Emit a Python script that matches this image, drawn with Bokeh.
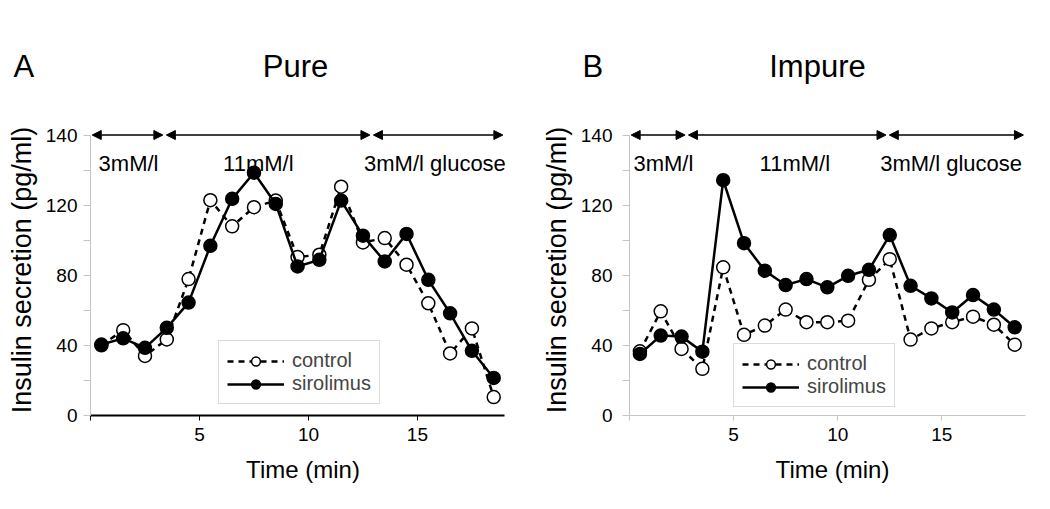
from bokeh.plotting import figure
from bokeh.layouts import row, column
from bokeh.models import (FixedTicker, Range1d, Arrow, NormalHead, Label,
                          Legend, LegendItem)
from bokeh.embed import file_html
from bokeh.resources import INLINE

# ---------------- data ----------------
time_min = [0.5, 1.5, 2.5, 3.5, 4.5, 5.5, 6.5, 7.5, 8.5, 9.5,
            10.5, 11.5, 12.5, 13.5, 14.5, 15.5, 16.5, 17.5, 18.5]

pure_control = [40, 48.7, 34, 43.4, 77.8, 122.8, 107.9, 118.8, 122.6, 90.4,
                91.7, 130.5, 98.7, 101.2, 86, 64, 35.4, 49.7, 10.5]
pure_sirolimus = [40.5, 44, 38.6, 50, 64.4, 96.8, 123.6, 138.5, 120.7, 85,
                  88.8, 122.6, 102.6, 87.9, 103.6, 77.4, 58.3, 36.9, 21.4]

impure_control = [36.6, 59.4, 38, 26.6, 84.5, 46, 51.3, 60.4, 53.2, 53.2,
                  54.1, 77.4, 89.2, 43.3, 49.7, 53.2, 56.4, 51.8, 40.4]
impure_sirolimus = [35.1, 45.6, 45, 36.4, 134.2, 98.3, 82.6, 74.4, 77.8, 73.1,
                    79.7, 83.1, 102.9, 74, 66.8, 58.8, 68.7, 60.4, 50.3]

phase_labels = ["3mM/l", "11mM/l", "3mM/l glucose"]
pure_phase_bounds = [0, 3.4, 12.9, 19]
impure_phase_bounds = [0, 2.75, 12.4, 19]

panel_letters = ["A", "B"]
panel_titles = ["Pure", "Impure"]

y_ticks = [0, 40, 80, 120, 160]
y_minor = [20, 60, 100, 140]
y_tick_labels = {0: "0", 40: "40", 80: "80", 120: "120", 160: "140"}
x_ticks = [0, 5, 10, 15]
x_tick_labels = {0: "", 5: "5", 10: "10", 15: "15"}

FONT = "Liberation Sans"
HEADER_H = 98
PANEL_H = 403


def make_panel(control, sirolimus, bounds, width,
               border_left, border_right, xaxis_color, ylab_standoff,
               text_x, legend_loc):
    p = figure(width=width, height=PANEL_H, output_backend="svg",
               toolbar_location=None, x_range=Range1d(0, 19.5),
               y_range=Range1d(0, 166),
               min_border_left=border_left, min_border_right=border_right,
               min_border_top=26, min_border_bottom=86)
    p.outline_line_color = None
    p.xgrid.visible = False
    p.ygrid.visible = False
    p.background_fill_color = "white"
    p.border_fill_color = "white"

    # axes
    p.yaxis.bounds = (0, 160)
    p.yaxis.ticker = FixedTicker(ticks=y_ticks, minor_ticks=y_minor)
    p.yaxis.major_label_overrides = y_tick_labels
    p.yaxis.axis_line_color = "#c4c4c4"
    p.yaxis.major_tick_line_color = "#c4c4c4"
    p.yaxis.minor_tick_line_color = "#c4c4c4"
    p.yaxis.major_tick_out = 7
    p.yaxis.major_tick_in = 0
    p.yaxis.minor_tick_out = 7
    p.yaxis.minor_tick_in = 0
    p.yaxis.major_label_standoff = ylab_standoff
    p.yaxis.axis_label = "Insulin secretion (pg/ml)"
    p.yaxis.axis_label_standoff = 6

    p.xaxis.bounds = (0, 19)
    p.xaxis.ticker = FixedTicker(ticks=x_ticks, minor_ticks=[])
    p.xaxis.major_label_overrides = x_tick_labels
    p.xaxis.axis_line_color = xaxis_color
    p.xaxis.axis_line_width = 2 if xaxis_color == "black" else 1
    p.xaxis.major_tick_line_color = xaxis_color
    p.xaxis.major_tick_out = 5
    p.xaxis.major_tick_in = 0
    p.xaxis.major_label_standoff = 7
    p.xaxis.axis_label = "Time (min)"
    p.xaxis.axis_label_standoff = 12

    for ax in (p.xaxis, p.yaxis):
        ax.major_label_text_font = FONT
        ax.major_label_text_font_size = "19px"
        ax.major_label_text_color = "black"
        ax.axis_label_text_font = FONT
        ax.axis_label_text_font_style = "normal"
        ax.axis_label_text_color = "black"
    p.yaxis.axis_label_text_font_size = "27px"
    p.xaxis.axis_label_text_font_size = "24px"

    # series
    lc = p.line(time_min, control, line_color="black", line_width=2.5,
                line_dash="6 5")
    sc = p.scatter(time_min, control, size=13, marker="circle",
                   fill_color="white", line_color="black", line_width=1.5)
    ls = p.line(time_min, sirolimus, line_color="black", line_width=2.5)
    ss = p.scatter(time_min, sirolimus, size=13, marker="circle",
                   fill_color="black", line_color="black", line_width=1.5)

    legend = Legend(items=[LegendItem(label="control", renderers=[lc, sc]),
                           LegendItem(label="sirolimus", renderers=[ls, ss])],
                    location=legend_loc, margin=0, padding=8, spacing=0,
                    glyph_width=57, glyph_height=22, label_standoff=8,
                    label_text_font=FONT, label_text_font_size="20px",
                    border_line_color="#b8b8b8", border_line_width=1,
                    background_fill_color="white", background_fill_alpha=1)
    p.add_layout(legend)

    # phase arrows
    for i in range(3):
        p.add_layout(Arrow(
            start=NormalHead(size=9, fill_color="black", line_color="black"),
            end=NormalHead(size=9, fill_color="black", line_color="black"),
            x_start=bounds[i] + 0.08, y_start=160,
            x_end=bounds[i + 1] - 0.08, y_end=160,
            line_color="black", line_width=1.5))

    aligns = ["left", "center", "left"]
    for txt, tx, al in zip(phase_labels, text_x, aligns):
        p.add_layout(Label(x=tx, y=143.7, text=txt, text_align=al,
                           text_baseline="alphabetic", text_font=FONT,
                           text_font_size="22px", text_color="black"))
    return p


# header with the panel letters and titles
header = figure(width=1042, height=HEADER_H, output_backend="svg",
                toolbar_location=None, x_range=Range1d(0, 1042),
                y_range=Range1d(0, HEADER_H), min_border=0)
header.axis.visible = False
header.grid.visible = False
header.outline_line_color = None
header_pos = [(13, "left"), (295, "center"), (582, "left"), (817, "center")]
header_txt = [panel_letters[0], panel_titles[0], panel_letters[1], panel_titles[1]]
for (hx, al), txt in zip(header_pos, header_txt):
    header.add_layout(Label(x=hx, y=HEADER_H - 66, text=txt, text_align=al,
                            text_baseline="alphabetic", text_font=FONT,
                            text_font_size="31px", text_color="black"))

left = make_panel(pure_control, pure_sirolimus, pure_phase_bounds,
                  533, 90, 18, "black", 6,
                  [0.37, 7.7, 12.55], (128, 11))
right = make_panel(impure_control, impure_sirolimus, impure_phase_bounds,
                   509, 96, 7, "#c4c4c4", 10,
                   [0.19, 7.94, 12.04], (104, 8))

layout = column(header, row(left, right))
open("out.html", "w").write(file_html(layout, INLINE))
